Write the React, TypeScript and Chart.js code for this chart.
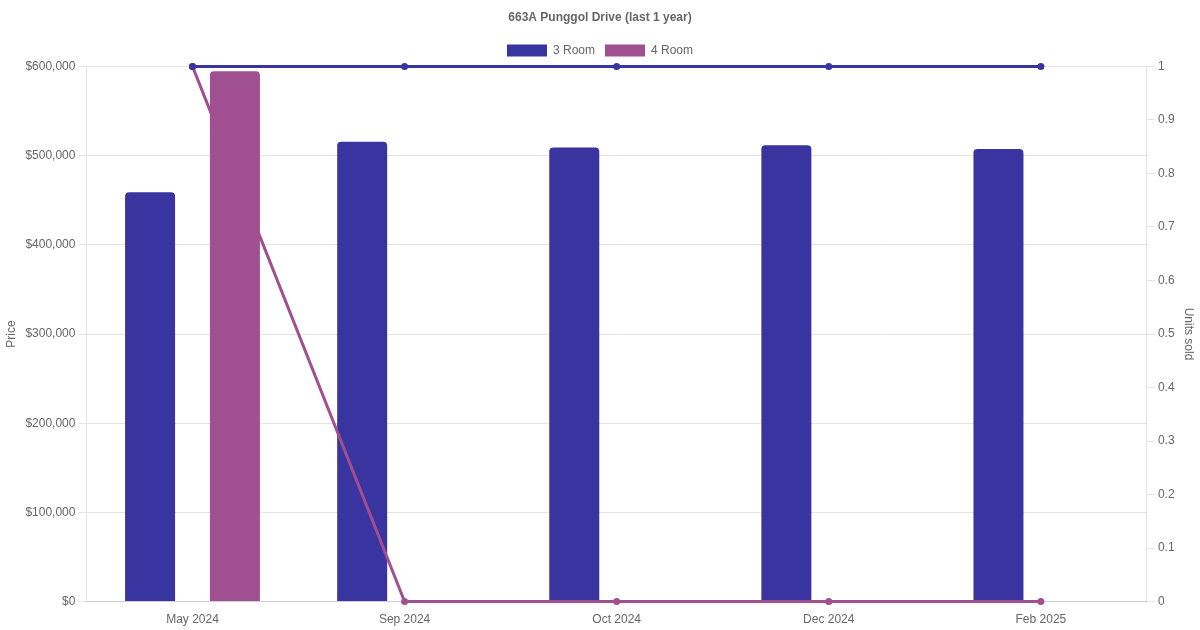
import React, { useEffect, useRef } from "react";
import { Chart, registerables } from "chart.js";

Chart.register(...registerables);

const categories = ["May 2024", "Sep 2024", "Oct 2024", "Dec 2024", "Feb 2025"];
const price3Room = [459000, 515500, 509000, 511500, 507500];
const price4Room: (number | null)[] = [594500, null, null, null, null];
const units3Room = [1, 1, 1, 1, 1];
const units4Room = [1, 0, 0, 0, 0];

const color3 = "#3934a0";
const color4 = "#a05090";

export default function App() {
  const ref = useRef<HTMLCanvasElement>(null);
  useEffect(() => {
    document.body.style.margin = "0";
    const chart = new Chart(ref.current!, {
      type: "bar",
      data: {
        labels: categories,
        datasets: [
          {
            type: "line",
            label: "3 Room units",
            data: units3Room,
            yAxisID: "y1",
            borderColor: color3,
            backgroundColor: color3,
            borderWidth: 3,
            pointRadius: 3.5,
            pointBorderWidth: 0,
            tension: 0,
            clip: false,
            order: 0,
          },
          {
            type: "line",
            label: "4 Room units",
            data: units4Room,
            yAxisID: "y1",
            borderColor: color4,
            backgroundColor: color4,
            borderWidth: 3,
            pointRadius: 3.5,
            pointBorderWidth: 0,
            tension: 0,
            clip: false,
            order: 1,
          },
          {
            type: "bar",
            label: "3 Room",
            data: price3Room,
            yAxisID: "y",
            backgroundColor: color3,
            borderColor: color3,
            borderRadius: 4,
            maxBarThickness: 50,
            order: 2,
          },
          {
            type: "bar",
            label: "4 Room",
            data: price4Room,
            yAxisID: "y",
            backgroundColor: color4,
            borderColor: color4,
            borderRadius: 4,
            maxBarThickness: 50,
            order: 2,
          },
        ],
      },
      options: {
        animation: false,
        responsive: true,
        maintainAspectRatio: false,
        color: "#666",
        font: { family: "'Helvetica Neue', Helvetica, Arial, sans-serif", size: 12 },
        plugins: {
          title: {
            display: true,
            text: "663A Punggol Drive (last 1 year)",
            color: "#666",
            font: { size: 12, weight: "bold" },
          },
          legend: {
            labels: {
              color: "#666",
              filter: (item) => item.text === "3 Room" || item.text === "4 Room",
              sort: (a, b) => (a.text < b.text ? -1 : 1),
            },
          },
          tooltip: { enabled: false },
        },
        scales: {
          x: {
            grid: { display: false },
            ticks: { color: "#666" },
          },
          y: {
            position: "left",
            min: 0,
            max: 600000,
            ticks: {
              stepSize: 100000,
              color: "#666",
              callback: (v) => "$" + Number(v).toLocaleString("en-US"),
            },
            title: { display: true, text: "Price", color: "#666" },
          },
          y1: {
            position: "right",
            min: 0,
            max: 1,
            ticks: {
              stepSize: 0.1,
              color: "#666",
              callback: (v) => String(Math.round(Number(v) * 10) / 10),
            },
            grid: { drawOnChartArea: false },
            title: { display: true, text: "Units sold", color: "#666" },
          },
        },
      },
    });
    return () => chart.destroy();
  }, []);
  return (
    <div style={{ width: 1200, height: 630, position: "relative" }}>
      <canvas ref={ref} />
    </div>
  );
}
